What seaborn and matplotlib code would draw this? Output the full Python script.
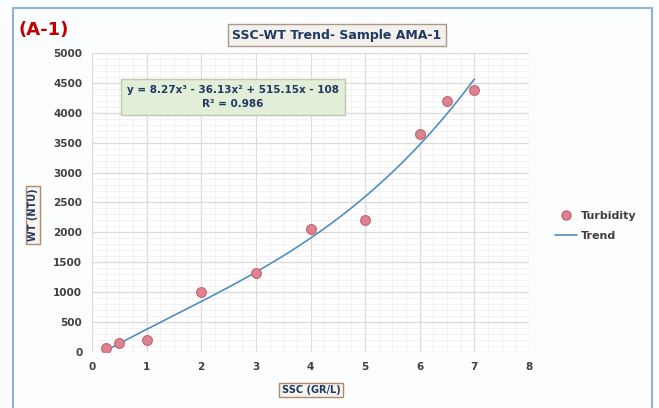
import numpy as np
import pandas as pd
import matplotlib
matplotlib.use("Agg")
import matplotlib.pyplot as plt
import seaborn as sns
from matplotlib.lines import Line2D
from matplotlib.patches import Rectangle

# ---- data ----
ssc = [0.25, 0.5, 1, 2, 3, 4, 5, 6, 6.5, 7]
turbidity = [60, 150, 200, 1000, 1320, 2050, 2200, 3650, 4200, 4380]
trend_coeffs = [8.27, -36.13, 515.15, -108]   # from the chart's equation
trend_range = [0.25, 7.0]
x_ticks = [0, 1, 2, 3, 4, 5, 6, 7, 8]
y_ticks = [0, 500, 1000, 1500, 2000, 2500, 3000, 3500, 4000, 4500, 5000]

title = "SSC-WT Trend- Sample AMA-1"
panel = "(A-1)"
eq_text = "y = 8.27x³ - 36.13x² + 515.15x - 108\nR² = 0.986"

sns.set_theme(style="white")
plt.rcParams['font.family'] = ['DejaVu Sans']

fig = plt.figure(figsize=(6.59, 4.08), dpi=100)
fig.patch.set_facecolor("#fbfdfe")
# outer frame
fig.patches.append(Rectangle((13/659, -0.05), (652-13)/659, (408-8)/408 + 0.05,
                             transform=fig.transFigure, fill=False,
                             edgecolor="#8fb4d9", linewidth=1.5))

ax = fig.add_axes([92/659, (408-352)/408, (529-92)/659, (352-53)/408])
ax.set_facecolor("white")

df = pd.DataFrame({"SSC": ssc, "Turbidity": turbidity})
xs = np.linspace(trend_range[0], trend_range[1], 200)
trend_df = pd.DataFrame({"SSC": xs, "Trend": np.polyval(trend_coeffs, xs)})

sns.lineplot(data=trend_df, x="SSC", y="Trend", ax=ax, color="#4f8fc0",
             linewidth=1.2, zorder=3)
sns.scatterplot(data=df, x="SSC", y="Turbidity", ax=ax, s=50,
                color="#dc8290", edgecolor="#c46474", linewidth=0.8, zorder=4)

ax.set_xlim(0, 8)
ax.set_ylim(0, 5000)
ax.set_xticks(x_ticks)
ax.set_yticks(y_ticks)
ax.set_xticks(np.arange(0, 8.01, 0.25), minor=True)
ax.set_yticks(np.arange(0, 5001, 100), minor=True)
ax.grid(which="major", color="#dadada", linewidth=0.9)
ax.grid(which="minor", color="#f0f0f0", linewidth=0.6)
for s in ax.spines.values():
    s.set_visible(False)
ax.tick_params(axis="both", which="both", length=0, labelsize=7.5,
               labelcolor="#404040", pad=7)
for lab in ax.get_xticklabels() + ax.get_yticklabels():
    lab.set_fontweight("bold")

ax.set_xlabel("")
ax.set_ylabel("")

box_lbl = dict(boxstyle="square,pad=0.25", facecolor="#f7f3ee",
               edgecolor="#b08a6a", linewidth=1)
fig.text(311/659, 1 - 390/408, "SSC (GR/L)", ha="center", va="center",
         fontsize=7, fontweight="bold", color="#1f3864", bbox=box_lbl)
fig.text(33/659, 1 - 215/408, "WT (NTU)", ha="center", va="center",
         rotation=90, fontsize=7, fontweight="bold", color="#1f3864",
         bbox=box_lbl)

fig.text(337/659, 1 - 35/408, title, ha="center", va="center",
         fontsize=9, fontweight="bold", color="#1f3864",
         bbox=dict(boxstyle="square,pad=0.35", facecolor="#f4f1ec",
                   edgecolor="#a89a8a", linewidth=1))
fig.text(18/659, 1 - 30/408, panel, ha="left", va="center",
         fontsize=13, fontweight="bold", color="#c00000")

fig.text(233/659, 1 - 97/408, eq_text, ha="center", va="center",
         fontsize=7.5, fontweight="bold", color="#1f3864", linespacing=1.5,
         bbox=dict(boxstyle="square,pad=0.55", facecolor="#e3eed8",
                   edgecolor="#bfc9b0", linewidth=1))

handles = [Line2D([], [], marker="o", linestyle="none", markersize=6.5,
                  markerfacecolor="#dc8290", markeredgecolor="#c46474"),
           Line2D([], [], color="#4f8fc0", linewidth=1.2)]
leg = fig.legend(handles, ["Turbidity", "Trend"], loc="center left",
                 bbox_to_anchor=(545/659, 1 - 226/408), frameon=False,
                 fontsize=8, handlelength=2.0, handletextpad=0.3,
                 labelspacing=0.9)
for t in leg.get_texts():
    t.set_fontweight("bold")
    t.set_color("#404040")

fig.savefig("out.png", dpi=100, facecolor=fig.get_facecolor())
